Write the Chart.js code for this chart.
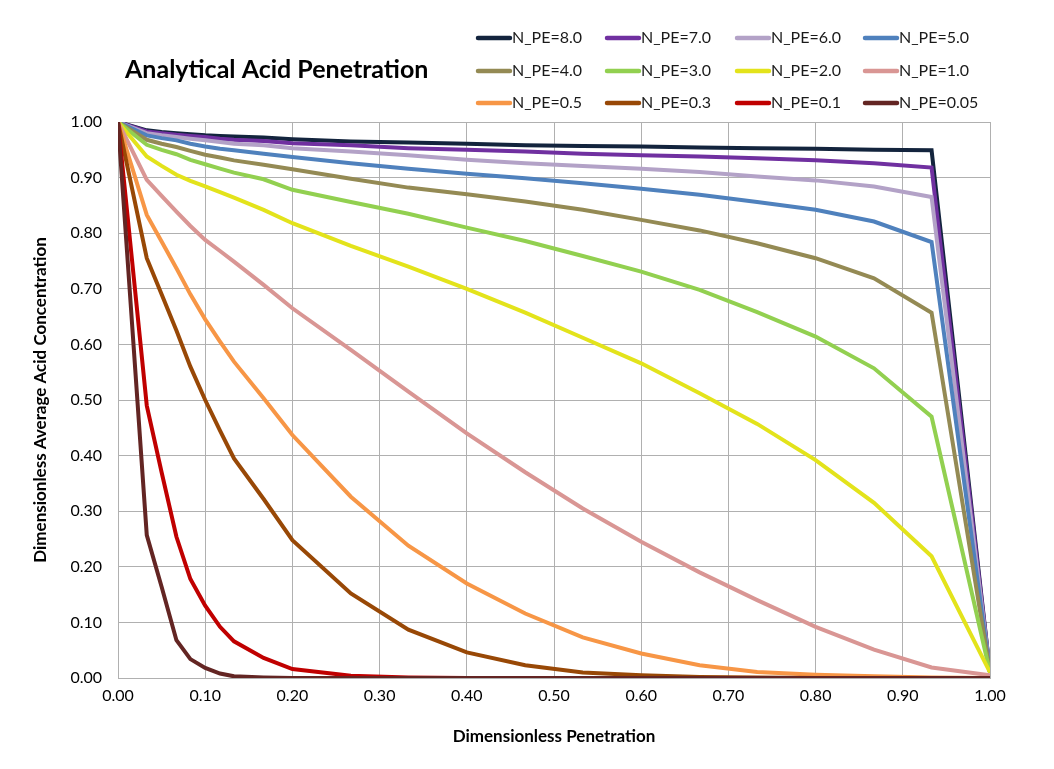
<!DOCTYPE html>
<html>
<head>
<meta charset="utf-8">
<script src="https://cdn.jsdelivr.net/npm/chart.js@4/dist/chart.umd.min.js"></script>
<style>
  html, body { margin: 0; padding: 0; background: #fff; }
  #wrap { width: 1054px; height: 769px; }
</style>
</head>
<body>
<div id="wrap"><canvas id="acid" width="1054" height="769"></canvas></div>
<script>
// dimensionless penetration (x) shared by every curve
const penetration = [0, 0.033, 0.05, 0.067, 0.083, 0.1, 0.117, 0.133, 0.167, 0.2, 0.267, 0.333, 0.4, 0.467, 0.533, 0.6, 0.667, 0.733, 0.8, 0.867, 0.933, 1.0];

// dimensionless average acid concentration, one list per Peclet number
const npe8   = [1.00, 0.985, 0.982, 0.980, 0.978, 0.976, 0.975, 0.974, 0.972, 0.969, 0.965, 0.963, 0.961, 0.958, 0.957, 0.956, 0.954, 0.953, 0.952, 0.950, 0.949, 0.01];
const npe7   = [1.00, 0.983, 0.980, 0.977, 0.975, 0.973, 0.970, 0.968, 0.966, 0.962, 0.958, 0.953, 0.950, 0.947, 0.943, 0.940, 0.938, 0.935, 0.931, 0.926, 0.918, 0.01];
const npe6   = [1.00, 0.980, 0.976, 0.973, 0.970, 0.967, 0.964, 0.961, 0.958, 0.953, 0.947, 0.940, 0.932, 0.926, 0.921, 0.916, 0.910, 0.902, 0.895, 0.884, 0.865, 0.01];
const npe5   = [1.00, 0.976, 0.971, 0.967, 0.961, 0.956, 0.952, 0.949, 0.943, 0.937, 0.926, 0.916, 0.907, 0.899, 0.890, 0.880, 0.869, 0.856, 0.842, 0.821, 0.784, 0.01];
const npe4   = [1.00, 0.968, 0.961, 0.955, 0.948, 0.941, 0.936, 0.931, 0.923, 0.915, 0.898, 0.882, 0.870, 0.857, 0.842, 0.824, 0.805, 0.782, 0.755, 0.719, 0.657, 0.01];
const npe3   = [1.00, 0.959, 0.950, 0.942, 0.932, 0.924, 0.916, 0.909, 0.897, 0.878, 0.856, 0.835, 0.810, 0.786, 0.759, 0.731, 0.698, 0.658, 0.614, 0.557, 0.470, 0.01];
const npe2   = [1.00, 0.938, 0.921, 0.905, 0.894, 0.884, 0.874, 0.864, 0.842, 0.818, 0.777, 0.740, 0.700, 0.657, 0.612, 0.566, 0.512, 0.457, 0.392, 0.315, 0.219, 0.01];
const npe1   = [1.00, 0.896, 0.867, 0.839, 0.813, 0.788, 0.768, 0.749, 0.707, 0.665, 0.590, 0.515, 0.440, 0.370, 0.305, 0.245, 0.190, 0.140, 0.092, 0.051, 0.019, 0.005];
const npe05  = [1.00, 0.833, 0.785, 0.737, 0.690, 0.645, 0.605, 0.569, 0.503, 0.437, 0.326, 0.238, 0.170, 0.116, 0.073, 0.044, 0.023, 0.011, 0.006, 0.003, 0.001, 0.0];
const npe03  = [1.00, 0.755, 0.690, 0.625, 0.560, 0.500, 0.445, 0.395, 0.322, 0.248, 0.152, 0.087, 0.046, 0.023, 0.010, 0.005, 0.002, 0.001, 0, 0, 0, 0];
const npe01  = [1.00, 0.490, 0.370, 0.254, 0.178, 0.130, 0.092, 0.066, 0.036, 0.016, 0.004, 0.001, 0, 0, 0, 0, 0, 0, 0, 0, 0, 0];
const npe005 = [1.00, 0.257, 0.164, 0.068, 0.034, 0.018, 0.008, 0.003, 0.001, 0, 0, 0, 0, 0, 0, 0, 0, 0, 0, 0, 0, 0];

const seriesNames = ['N_PE=8.0', 'N_PE=7.0', 'N_PE=6.0', 'N_PE=5.0', 'N_PE=4.0', 'N_PE=3.0', 'N_PE=2.0', 'N_PE=1.0', 'N_PE=0.5', 'N_PE=0.3', 'N_PE=0.1', 'N_PE=0.05'];
const seriesValues = [npe8, npe7, npe6, npe5, npe4, npe3, npe2, npe1, npe05, npe03, npe01, npe005];
const seriesColors = ['#13243d', '#7030a0', '#b3a2c7', '#4f81bd', '#948a54', '#92d050', '#e3e31b', '#d99694', '#f79646', '#984806', '#c00000', '#632523'];

const FONT = 'Lato, "Open Sans", sans-serif';

// legend (4 per row) and chart title, drawn by hand
const acidDecor = {
  id: 'acidDecor',
  afterDraw(chart, args, options) {
    const {ctx} = chart;
    ctx.save();
    ctx.fillStyle = '#000';
    ctx.font = 'bold 25px ' + FONT;
    ctx.textAlign = 'left';
    ctx.textBaseline = 'middle';
    ctx.fillText(options.title, 125, 70);

    ctx.font = '16px ' + FONT;
    chart.data.datasets.forEach((ds, i) => {
      const x = options.colX[i % 4];
      const y = options.rowY[Math.floor(i / 4)];
      ctx.strokeStyle = ds.borderColor;
      ctx.lineWidth = 4.5;
      ctx.lineCap = 'round';
      ctx.beginPath();
      ctx.moveTo(x, y);
      ctx.lineTo(x + 32, y);
      ctx.stroke();
      ctx.fillStyle = '#1a1a1a';
      ctx.fillText(ds.label, x + 34, y);
    });
    ctx.restore();
  }
};

const datasets = seriesNames.map((name, i) => ({
  label: name,
  data: penetration.map((p, j) => ({x: p, y: seriesValues[i][j]})),
  borderColor: seriesColors[i],
  backgroundColor: seriesColors[i],
  borderWidth: 4,
  pointRadius: 0,
  tension: 0,
  order: seriesNames.length - 1 - i
}));

new Chart(document.getElementById('acid'), {
  type: 'line',
  data: {datasets: datasets},
  options: {
    responsive: false,
    animation: false,
    layout: {
      padding: {top: 122, left: 0, right: 64, bottom: 0}
    },
    scales: {
      x: {
        type: 'linear',
        min: 0,
        max: 1,
        afterFit(scale) { scale.height = 91; },
        grid: {color: '#b0b0b0', lineWidth: 1, drawTicks: false},
        border: {color: '#b0b0b0'},
        ticks: {
          stepSize: 0.1,
          padding: 8,
          color: '#000',
          maxRotation: 0,
          font: {size: 16, family: FONT},
          callback: v => v.toFixed(2)
        },
        title: {
          display: true,
          text: 'Dimensionless Penetration',
          color: '#000',
          padding: {top: 0, bottom: 22},
          font: {size: 17, weight: 'bold', family: FONT}
        }
      },
      y: {
        min: 0,
        max: 1,
        afterFit(scale) { scale.width = 118; },
        grid: {color: '#b0b0b0', lineWidth: 1, drawTicks: false},
        border: {color: '#b0b0b0'},
        ticks: {
          stepSize: 0.1,
          padding: 16,
          color: '#000',
          font: {size: 16, family: FONT},
          callback: v => v.toFixed(2)
        },
        title: {
          display: true,
          text: 'Dimensionless Average Acid Concentration',
          color: '#000',
          padding: {top: 30, bottom: 0},
          font: {size: 17, weight: 'bold', family: FONT}
        }
      }
    },
    plugins: {
      legend: {display: false},
      tooltip: {enabled: false},
      acidDecor: {
        title: 'Analytical Acid Penetration',
        colX: [478, 607, 737, 865],
        rowY: [38, 71, 103]
      }
    }
  },
  plugins: [acidDecor]
});
</script>
</body>
</html>
